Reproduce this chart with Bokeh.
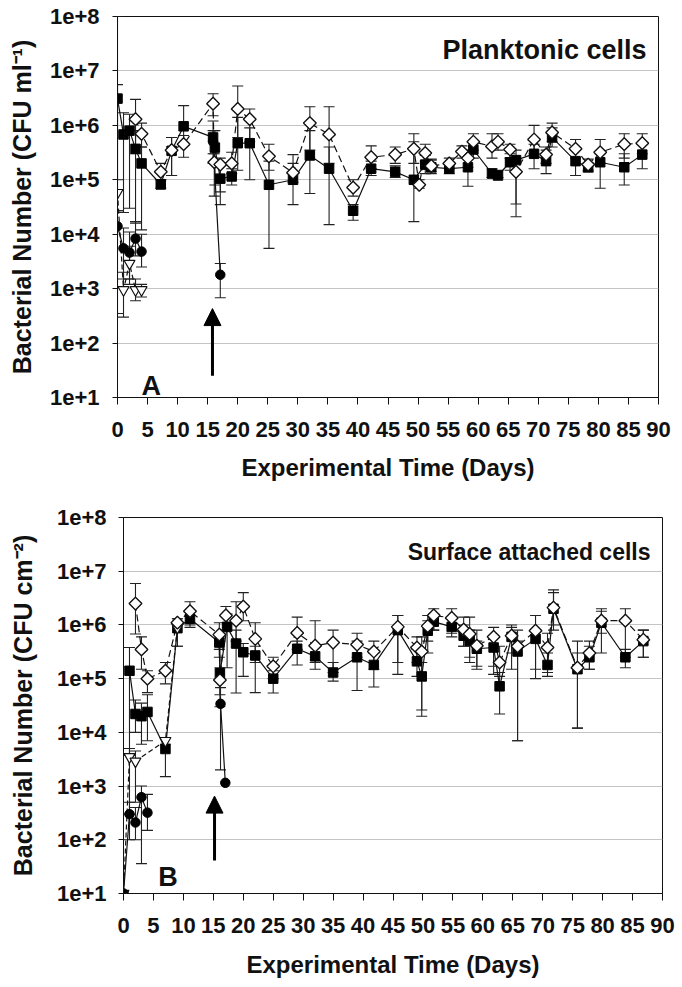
import math
from bokeh.plotting import figure
from bokeh.models import (ColumnDataSource, Whisker, TeeHead, FixedTicker,
                          CustomJSTickFormatter, Label, Arrow, NormalHead)
from bokeh.embed import file_html
from bokeh.resources import INLINE

nan = float("nan")

# ---------------- Panel A : planktonic cells (CFU ml-1) ----------------
a_sq_day = [0, 1, 2, 3, 4, 7.2, 9, 11, 15.9, 16.2, 17.1, 19, 20, 22, 25.2, 29.2, 32, 35.2, 39.2,
            42.2, 46.2, 49.3, 51.2, 52.2, 55.2, 58.3, 59.2, 62.3, 63.3, 65.3, 66.3, 69.3, 71.3,
            72.3, 76.2, 78.3, 80.3, 84.3, 87.3]
a_sq_val = [3.1e6, 6.8e5, 8e5, 3.7e5, 2e5, 8.2e4, 3.4e5, 9.6e5, 6e5, 3.9e5, 1.05e5, 1.15e5, 4.7e5,
            4.7e5, 8.1e4, 1e5, 2.8e5, 1.6e5, 2.7e4, 1.6e5, 1.4e5, 1e5, 1.9e5, 1.7e5, 1.6e5, 1.7e5,
            3.6e5, 1.3e5, 1.2e5, 2.1e5, 2.3e5, 3e5, 2.2e5, 6e5, 2.2e5, 1.7e5, 2.1e5, 1.7e5, 2.9e5]
a_sq_lo = [1e5, 2.5e4, 3e4, 1.6e4, 1.2e4, 7e4, 1.2e5, 4.5e5, 3e5, 8e4, 3.5e4, 8e4, 1.5e5, 1e5,
           5.5e3, 3.5e4, 5.6e4, 1.5e4, 1.8e4, 1.2e5, 1.1e5, 1.7e4, 1.3e5, 1.3e5, 1.3e5, 7.6e4,
           2.5e5, 1.1e5, 1.1e5, 1.5e5, 3.6e4, 1.6e5, 1.3e5, 4e5, 1.2e5, 1.4e5, 7e4, 8e4, 1.6e5]
a_sq_hi = [5.6e6, 1.7e6, 1.6e6, 8e5, 4e5, 1e5, 6e5, 2.3e6, 1.2e6, 8e5, 2e5, 1.6e5, 1.4e6, 9e5,
           2.2e5, 2.9e5, 8e5, 4e5, 3.5e4, 2.2e5, 1.8e5, 7e5, 2.8e5, 2.4e5, 2e5, 2.5e5, 5e5, 1.6e5,
           1.5e5, 3e5, 3.5e5, 4.5e5, 3.5e5, 9e5, 3.5e5, 2e5, 3e5, 3e5, 4.5e5]

a_dm_day = [3, 4, 7.2, 9, 11, 15.9, 16.1, 17.1, 19, 20, 22, 25.2, 29.2, 32, 35.2, 39.2, 42.2, 46.2,
            49.3, 50.2, 51.2, 52.2, 55.2, 57.3, 58.3, 59.2, 62.3, 63.3, 65.3, 66.3, 69.3, 71.3,
            72.3, 76.2, 78.3, 80.3, 84.3, 87.3]
a_dm_val = [1.3e6, 7e5, 1.4e5, 3.5e5, 4.5e5, 2.5e6, 2.1e5, 1.9e5, 2e5, 2e6, 1.3e6, 2.7e5, 1.35e5,
            1.1e6, 6.8e5, 7.2e4, 2.6e5, 2.9e5, 3.7e5, 8.1e4, 3.1e5, 1.8e5, 2e5, 3.3e5, 2.5e5, 5e5,
            4.1e5, 5e5, 3.6e5, 1.4e5, 5.5e5, 2.9e5, 7.4e5, 3.7e5, 1.9e5, 3.2e5, 4.5e5, 4.7e5]
a_dm_lo = [3e5, 4e5, 1e5, 1.2e5, 2.6e5, 1.5e6, 5e4, 6e4, 1.3e5, 6e5, 5e5, 1.5e5, 9e4, 3.5e5, 2e5,
           5e4, 1.6e5, 2e5, 2e5, 7e4, 2.2e5, 1.4e5, 1.6e5, 2.5e5, 1.7e5, 3.5e5, 2.5e5, 3.5e5,
           2.5e5, 2.1e4, 3e5, 2e5, 5e5, 2.5e5, 1.5e5, 2e5, 2.5e5, 3e5]
a_dm_hi = [3e6, 1.1e6, 2e5, 6e5, 6.5e5, 3.8e6, 3e5, 2.5e5, 3.2e5, 5.3e6, 2e6, 4.5e5, 2e5, 2.2e6,
           2.2e6, 1e5, 4.2e5, 4e5, 5e5, 1e5, 4.5e5, 2.3e5, 2.5e5, 4.2e5, 3.5e5, 7e5, 7e5, 7e5,
           4.5e5, 2.3e5, 1e6, 4e5, 1.1e6, 5.5e5, 2.4e5, 5.5e5, 7e5, 7e5]

a_ci_day = [0, 1, 2, 3, 4, nan, 15.9, 17.1]
a_ci_val = [1.4e4, 5.5e3, 4.6e3, 8.3e3, 4.8e3, nan, 5e5, 1.8e3]
a_ci_lo = [3.5e2, 1.5e3, 1.2e3, 4e3, 2.5e3, nan, 2e5, 6.8e2]
a_ci_hi = [2.7e4, 1.3e4, 1.1e4, 1.7e4, 1e4, nan, 8e5, 2.9e3]

a_tr_day = [0, 1, 2, 3, 4]
a_tr_val = [5.8e4, 9.5e2, 2.9e3, 9.5e2, 9.5e2]
a_tr_lo = [2.7e4, 3e2, 1.5e3, 6e2, 7e2]
a_tr_hi = [1e8, 2e3, 6e3, 1.5e3, 1.2e3]

# ---------------- Panel B : surface attached cells (CFU cm-2) ----------------
b_sq_day = [1, 2, 3, 4, 7, 9, 11.1, 16, 16.1, 17.3, 18.8, 20, 22, 25, 29, 32, 35, 39, 41.8, 45.8,
            49, 49.8, 50.8, 51.8, 54.8, 56.8, 57.8, 59, 61.8, 62.8, 64.8, 65.8, 68.8, 70.8, 71.8,
            75.8, 77.8, 79.8, 83.8, 86.8]
b_sq_val = [1.4e5, 2.2e4, 2e4, 2.4e4, 4.9e3, 8.7e5, 1.3e6, 4.7e5, 1.26e5, 9.2e5, 4.5e5, 3.1e5,
            2.7e5, 1e5, 3.6e5, 2.6e5, 1.3e5, 2.5e5, 1.8e5, 8e5, 2.1e5, 1.1e5, 7.8e5, 1.15e6,
            9.2e5, 6.3e5, 5.1e5, 3.6e5, 3.8e5, 7.2e4, 6e5, 3.2e5, 5.5e5, 1.8e5, 2e6, 1.5e5,
            2.5e5, 1.1e6, 2.5e5, 5e5]
b_sq_lo = [3.7e3, 1e4, 6e3, 7e3, 1.5e3, 4e5, 9e5, 2.5e5, 3e4, 1.6e5, 5.4e4, 1.1e5, 5.5e4, 5.4e4,
           1.8e5, 1.5e5, 9e4, 6e4, 7e4, 1.2e5, 1.1e5, 2.6e4, 3e5, 8e5, 6e5, 4e5, 2e5, 1.5e5,
           1.2e5, 2.2e4, 1.5e5, 7e3, 1e5, 1.1e5, 1e6, 1.2e4, 1.5e5, 7e5, 1.6e5, 2.5e5]
b_sq_hi = [3.8e5, 4e4, 3.5e4, 5e4, 6e3, 1.3e6, 1.8e6, 7e5, 5e5, 1.6e6, 8e5, 4.5e5, 4e5, 1.4e5,
           5e5, 4e5, 2e5, 5e5, 3e5, 1.5e6, 3.5e5, 2e5, 1.2e6, 1.6e6, 1.4e6, 1e6, 8e5, 5e5, 6e5,
           1.3e5, 9e5, 5e5, 8e5, 3e5, 4e6, 5e5, 4e5, 1.8e6, 3.5e5, 8e5]

b_dm_day = [2, 3, 4, 7, 9, 11.1, 16, 16.1, 17.1, 18.8, 20, 22, 25, 29, 32, 35, 39, 41.8, 45.8, 49,
            49.8, 50.8, 51.8, 54.8, 56.8, 57.8, 59, 61.8, 62.8, 64.8, 65.8, 68.8, 70.8, 71.8,
            75.8, 77.8, 79.8, 83.8, 86.8]
b_dm_val = [2.5e6, 3.5e5, 1e5, 1.4e5, 1.1e6, 1.8e6, 6.6e5, 9.4e4, 1.5e6, 1.2e6, 2.2e6, 5.5e5,
            1.7e5, 7.1e5, 4.1e5, 4.7e5, 4.3e5, 3.2e5, 9.2e5, 3.8e5, 3.2e5, 9.5e5, 1.5e6, 1.35e6,
            8.2e5, 6.8e5, 4.1e5, 6e5, 2e5, 6.3e5, 4e5, 7.8e5, 3.8e5, 2.1e6, 1.6e5, 3e5, 1.2e6,
            1.2e6, 5.3e5]
b_dm_lo = [6.8e5, 1.5e5, 5.5e4, 8e4, 4e5, 1e6, 3.5e5, 5e4, 8e5, 5e5, 1.2e6, 2e5, 1e5, 3.5e5, 2e5,
           1.3e5, 2.5e5, 1.5e5, 2e5, 2e5, 2e4, 5e5, 8e5, 7e5, 4e5, 2.5e5, 1.7e5, 1.7e5, 1.1e5,
           3e5, 7e3, 1.5e5, 1.3e5, 8e5, 1.2e4, 1.5e5, 3e5, 2.5e5, 2.5e5]
b_dm_hi = [5.9e6, 6e5, 1.4e5, 2e5, 1.3e6, 2.7e6, 1.1e6, 1.6e5, 2.2e6, 2.7e6, 4e6, 1.1e6, 2.5e5,
           1.4e6, 1.2e6, 8e5, 7e5, 5e5, 1.5e6, 6e5, 6e5, 1.5e6, 2e6, 2e6, 1.4e6, 1.4e6, 8e5, 9e5,
           4e5, 1e6, 8e5, 1.5e6, 7e5, 4.5e6, 3e5, 5e5, 2e6, 2e6, 8e5]

b_ci_day = [0, 1, 2, 3, 4, nan, 16.2, 17]
b_ci_val = [10, 3e2, 2.1e2, 6.2e2, 3.2e2, nan, 3.4e4, 1.15e3]
b_ci_lo = [nan, 1e2, 1e2, 3.6e1, 1.5e2, nan, 2e3, nan]
b_ci_hi = [nan, 5e2, 4e2, 1e3, 7e2, nan, 6.8e4, nan]

b_tr_day = [0, 1, 2, 7, 9]
b_tr_val = [10, 3.5e3, 2.9e3, 7e3, 9e5]
b_tr_lo = [nan, 3e2, 5e2, nan, nan]
b_tr_hi = [nan, 5e3, 4.5e3, nan, nan]

x_ticks = list(range(0, 95, 5))
y_ticks = [1e1, 1e2, 1e3, 1e4, 1e5, 1e6, 1e7, 1e8]
x_title = "Experimental Time (Days)"

FONT = "Liberation Sans"
INK = "#111111"


def whiskers(p, day, lo, hi):
    keep = [i for i in range(len(day))
            if not (math.isnan(day[i]) or math.isnan(lo[i]) or math.isnan(hi[i]))]
    src = ColumnDataSource(dict(x=[day[i] for i in keep], lo=[lo[i] for i in keep],
                                hi=[hi[i] for i in keep]))
    w = Whisker(source=src, base="x", lower="lo", upper="hi", dimension="height",
                line_color="#222222", line_width=1.1, level="underlay",
                upper_head=TeeHead(size=11, line_color="#222222", line_width=1.1),
                lower_head=TeeHead(size=11, line_color="#222222", line_width=1.1))
    p.add_layout(w)


def panel(sq, dm, ci, tr, ylabel, title, title_xy, title_size, letter, letter_xy, arrow,
          width, height, borders, xstand, ystand):
    p = figure(width=width, height=height, y_axis_type="log", x_range=(0, 90),
               y_range=(10, 1e8), output_backend="svg", toolbar_location=None,
               min_border_left=borders[0], min_border_right=borders[1],
               min_border_top=borders[2], min_border_bottom=borders[3])
    p.outline_line_color = INK
    p.outline_line_width = 1
    p.xgrid.visible = False
    p.ygrid.grid_line_color = "#c4c4c4"
    p.ygrid.grid_line_width = 1.2
    p.background_fill_color = "white"
    p.border_fill_color = "white"

    p.xaxis.ticker = FixedTicker(ticks=x_ticks)
    p.yaxis.ticker = FixedTicker(ticks=y_ticks)
    p.yaxis.formatter = CustomJSTickFormatter(
        code='return "1e+" + Math.round(Math.log10(tick));')
    for ax in (p.xaxis[0], p.yaxis[0]):
        ax.axis_line_color = INK
        ax.major_tick_line_color = INK
        ax.minor_tick_line_color = None
        ax.major_tick_in = 0
        ax.major_label_text_font = FONT
        ax.major_label_text_font_style = "bold"
        ax.major_label_text_color = INK
        ax.axis_label_text_font = FONT
        ax.axis_label_text_font_style = "bold"
        ax.axis_label_text_color = INK
    p.xaxis.major_tick_out = 7
    p.yaxis.major_tick_out = 5
    p.xaxis.major_label_text_font_size = "22px"
    p.yaxis.major_label_text_font_size = "22px"
    p.xaxis.major_label_standoff = xstand[0]
    p.yaxis.major_label_standoff = ystand[0]
    p.xaxis.axis_label = x_title
    p.yaxis.axis_label = ylabel
    p.xaxis.axis_label_text_font_size = "24px"
    p.yaxis.axis_label_text_font_size = "25px"
    p.xaxis.axis_label_standoff = xstand[1]
    p.yaxis.axis_label_standoff = ystand[1]

    # error bars
    for s in (sq, dm, ci, tr):
        whiskers(p, s[0], s[2], s[3])

    # lines
    p.line(sq[0], sq[1], line_color=INK, line_width=1.2)
    p.line(dm[0], dm[1], line_color=INK, line_width=1.2, line_dash="7 4")
    p.line(ci[0], ci[1], line_color=INK, line_width=1.2)
    p.line(tr[0], tr[1], line_color=INK, line_width=1.2, line_dash="5 3")

    # markers
    p.scatter(sq[0], sq[1], marker="square", size=9.5, fill_color="black",
              line_color="black")
    p.scatter(tr[0], tr[1], marker="inverted_triangle", size=11, fill_color="white",
              line_color=INK, line_width=1.2)
    p.scatter(ci[0], ci[1], marker="circle", size=9.5, fill_color="black",
              line_color="black")
    p.scatter(dm[0], dm[1], marker="square", angle=math.pi / 4, size=9,
              fill_color="white", line_color=INK, line_width=1.4)

    p.add_layout(Label(x=title_xy[0], y=title_xy[1], text=title, text_align="right",
                       text_baseline="alphabetic", text_font=FONT, text_font_style="bold",
                       text_font_size=title_size, text_color=INK))
    p.add_layout(Label(x=letter_xy[0], y=letter_xy[1], text=letter, text_align="left",
                       text_baseline="alphabetic", text_font=FONT, text_font_style="bold",
                       text_font_size="27px", text_color=INK))
    p.add_layout(Arrow(x_start=arrow[0], y_start=arrow[1], x_end=arrow[0], y_end=arrow[2],
                       line_color="black", line_width=3,
                       end=NormalHead(size=17, fill_color="black", line_color="black")))
    return p


pA = panel((a_sq_day, a_sq_val, a_sq_lo, a_sq_hi),
           (a_dm_day, a_dm_val, a_dm_lo, a_dm_hi),
           (a_ci_day, a_ci_val, a_ci_lo, a_ci_hi),
           (a_tr_day, a_tr_val, a_tr_lo, a_tr_hi),
           "Bacterial Number (CFU ml\u207B\u00B9)", "Planktonic cells", (88, 2.4e7), "27px",
           "A", (4.0, 16), (15.8, 25, 430),
           676, 499, (117, 18, 16, 102), (17, 14), (13, 11))

pB = panel((b_sq_day, b_sq_val, b_sq_lo, b_sq_hi),
           (b_dm_day, b_dm_val, b_dm_lo, b_dm_hi),
           (b_ci_day, b_ci_val, b_ci_lo, b_ci_hi),
           (b_tr_day, b_tr_val, b_tr_lo, b_tr_hi),
           "Bacterial Number (CFU cm\u207B\u00B2)", "Surface attached cells", (88, 2.3e7),
           "23px", "B", (5.8, 20), (15.2, 41, 650),
           678, 487, (123, 16, 18, 93), (17, 15), (12, 17))

# two independent roots, stacked by the page itself (no frame alignment between panels)
open("out.html", "w").write(file_html([pA, pB], INLINE))
